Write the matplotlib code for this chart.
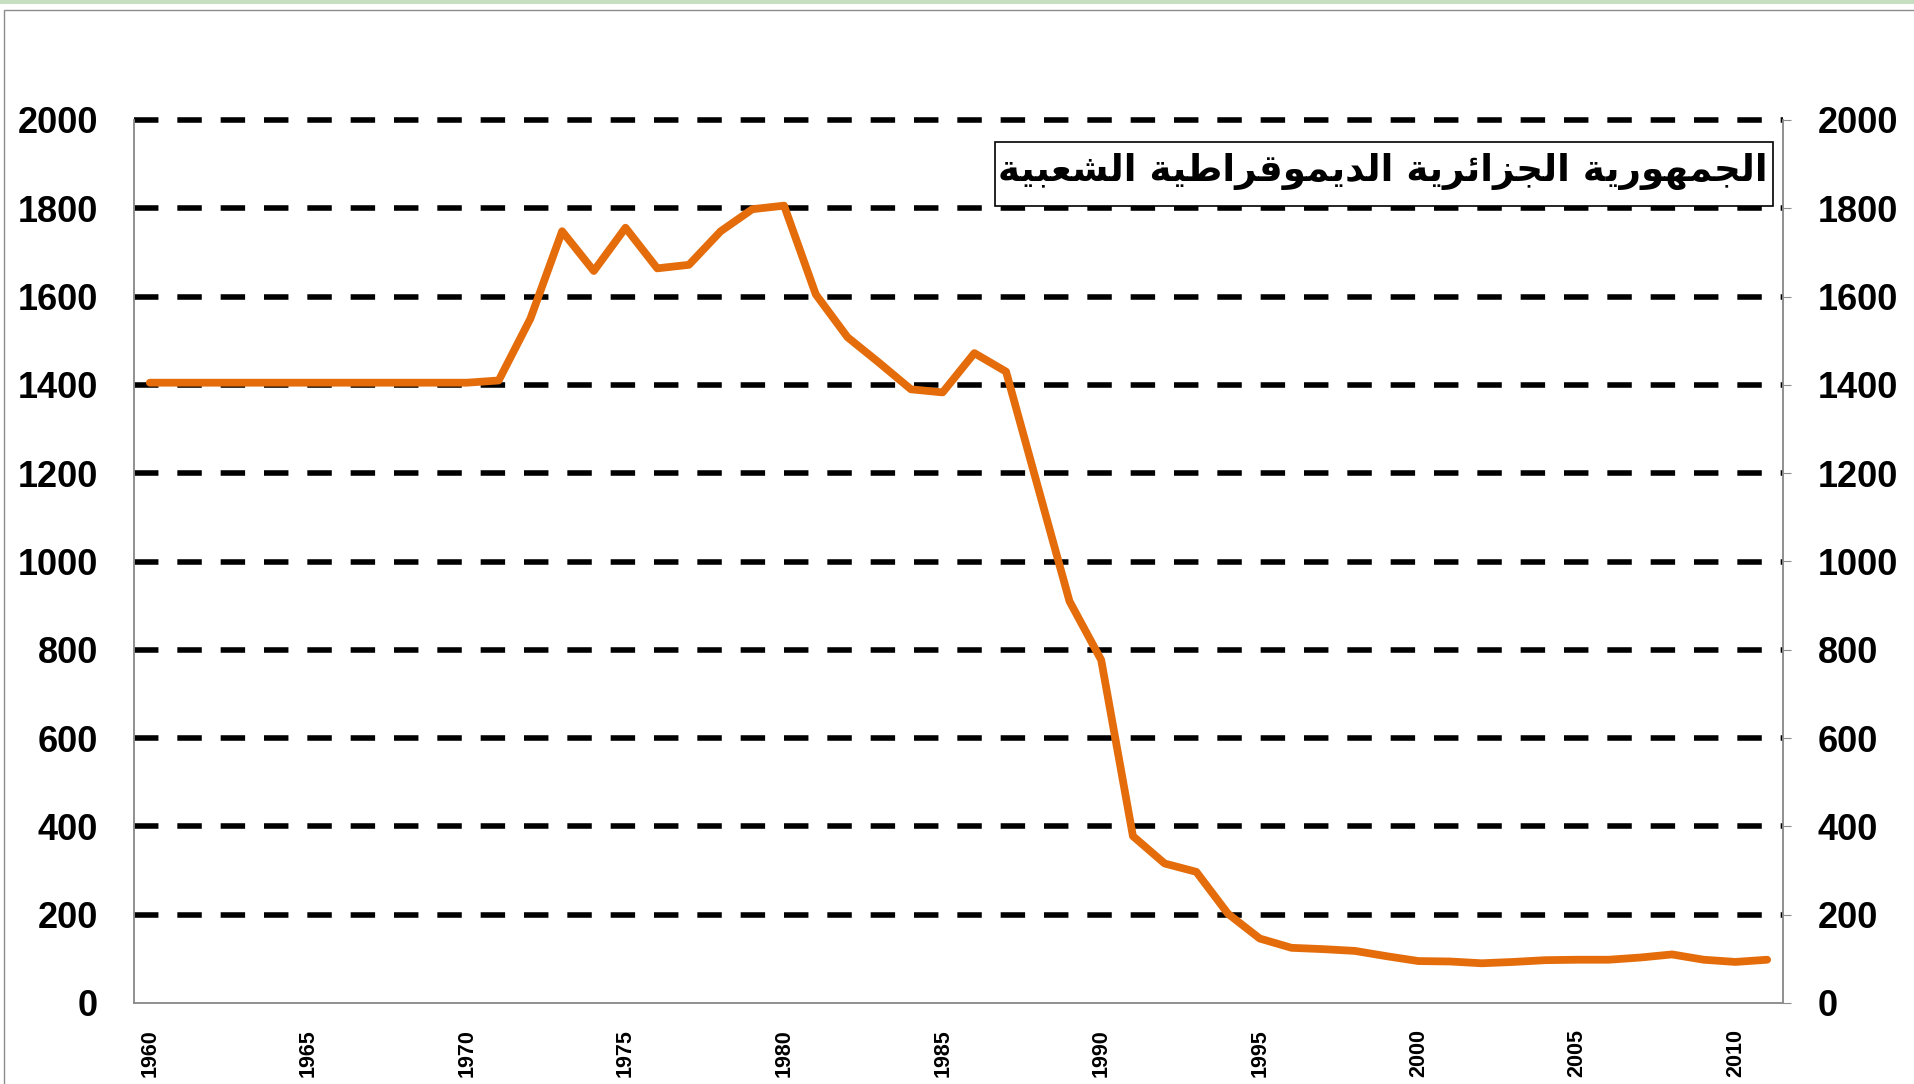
import numpy as np
import matplotlib
matplotlib.use("Agg")
import matplotlib.pyplot as plt
from matplotlib.patches import Rectangle

# data
years = list(range(1960, 2012))
values = [1405, 1405, 1405, 1405, 1405, 1405, 1405, 1405, 1405, 1405, 1405,
          1410, 1550, 1748, 1658, 1756, 1664, 1672, 1748, 1798, 1806,
          1605, 1508, 1450, 1390, 1383, 1472, 1430, 1170, 910, 777,
          378, 316, 297, 202, 146, 125, 122, 118, 106, 95,
          94, 90, 93, 97, 98, 98, 103, 110, 98, 93, 98]
yticks = [0, 200, 400, 600, 800, 1000, 1200, 1400, 1600, 1800, 2000]
xtick_years = [1960, 1965, 1970, 1975, 1980, 1985, 1990, 1995, 2000, 2005, 2010]
title = "الجمهورية الجزائرية الديموقراطية الشعبية"

# matplotlib does no arabic shaping, so pick presentation forms by hand
FORMS = {
    'ا': ('\uFE8D', '\uFE8E', None, None),
    'ب': ('\uFE8F', '\uFE90', '\uFE91', '\uFE92'),
    'ة': ('\uFE93', '\uFE94', None, None),
    'ج': ('\uFE9D', '\uFE9E', '\uFE9F', '\uFEA0'),
    'د': ('\uFEA9', '\uFEAA', None, None),
    'ر': ('\uFEAD', '\uFEAE', None, None),
    'ز': ('\uFEAF', '\uFEB0', None, None),
    'ش': ('\uFEB5', '\uFEB6', '\uFEB7', '\uFEB8'),
    'ط': ('\uFEC1', '\uFEC2', '\uFEC3', '\uFEC4'),
    'ع': ('\uFEC9', '\uFECA', '\uFECB', '\uFECC'),
    'ق': ('\uFED5', '\uFED6', '\uFED7', '\uFED8'),
    'ل': ('\uFEDD', '\uFEDE', '\uFEDF', '\uFEE0'),
    'م': ('\uFEE1', '\uFEE2', '\uFEE3', '\uFEE4'),
    'ه': ('\uFEE9', '\uFEEA', '\uFEEB', '\uFEEC'),
    'و': ('\uFEED', '\uFEEE', None, None),
    'ي': ('\uFEF1', '\uFEF2', '\uFEF3', '\uFEF4'),
    'ئ': ('\uFE89', '\uFE8A', '\uFE8B', '\uFE8C'),
}


def reshape(s):
    out = []
    for i, ch in enumerate(s):
        if ch not in FORMS:
            out.append(ch)
            continue
        iso, fin, ini, med = FORMS[ch]
        prev = s[i - 1] if i > 0 else ''
        nxt = s[i + 1] if i + 1 < len(s) else ''
        jp = prev in FORMS and FORMS[prev][2] is not None
        jn = ini is not None and nxt in FORMS
        if jp and jn:
            out.append(med)
        elif jp:
            out.append(fin)
        elif jn:
            out.append(ini)
        else:
            out.append(iso)
    return ''.join(reversed(out))


W, H = 1915, 1084
fig = plt.figure(figsize=(W / 100, H / 100), dpi=100)
ax = fig.add_axes([134 / W, (H - 1003) / H, (1783 - 134) / W, (1003 - 120) / H])
ax2 = ax.twinx()

x = np.arange(len(years))
ax.hlines(yticks[1:], -0.5, len(years) - 0.5, colors='black', linewidth=4,
          linestyles=(0, (4.4, 3.4)), zorder=1, clip_on=False)
ax.plot(x, values, color='#E46C0A', linewidth=5.6, solid_joinstyle='round',
        solid_capstyle='round', zorder=3)

for a in (ax, ax2):
    a.set_xlim(-0.5, len(years) - 0.5)
    a.set_ylim(0, 2000)
    a.set_yticks(yticks)
    a.spines['top'].set_visible(False)
    for s in ('left', 'right', 'bottom'):
        a.spines[s].set_color('#8c8c8c')
        a.spines[s].set_linewidth(1.1)

ax.set_xticks([years.index(y) for y in xtick_years])
ax.set_xticklabels([str(y) for y in xtick_years], rotation=90, fontsize=15.5,
                   fontweight='bold', family='Liberation Sans', va='top')
ax.tick_params(axis='x', length=0, pad=19)
ax.tick_params(axis='y', length=0, pad=26)
ax2.tick_params(axis='y', length=6, direction='out', color='#8c8c8c', pad=19)
for lab in ax.get_yticklabels() + ax2.get_yticklabels():
    lab.set_fontsize(26)
    lab.set_fontweight('bold')
    lab.set_family('Liberation Sans')

# chart frame and sheet strip
fig.add_artist(Rectangle((0, (H - 4) / H), 1, 4 / H, transform=fig.transFigure,
                         facecolor='#c6dfc0', edgecolor='none'))
fig.add_artist(Rectangle((4 / W, -0.1), 1, (H - 10) / H + 0.1, transform=fig.transFigure,
                         facecolor='none', edgecolor='#8c8c8c', linewidth=1))

# title box
fig.add_artist(Rectangle((995 / W, (H - 206) / H), 778 / W, 64 / H, transform=fig.transFigure,
                         facecolor='white', edgecolor='black', linewidth=1.2, zorder=5))
fig.text(1768 / W, (H - 172) / H, reshape(title), ha='right', va='center',
         fontsize=26.8, fontweight='bold', family=['DejaVu Sans'], zorder=6)

fig.savefig('out.png', dpi=100)
